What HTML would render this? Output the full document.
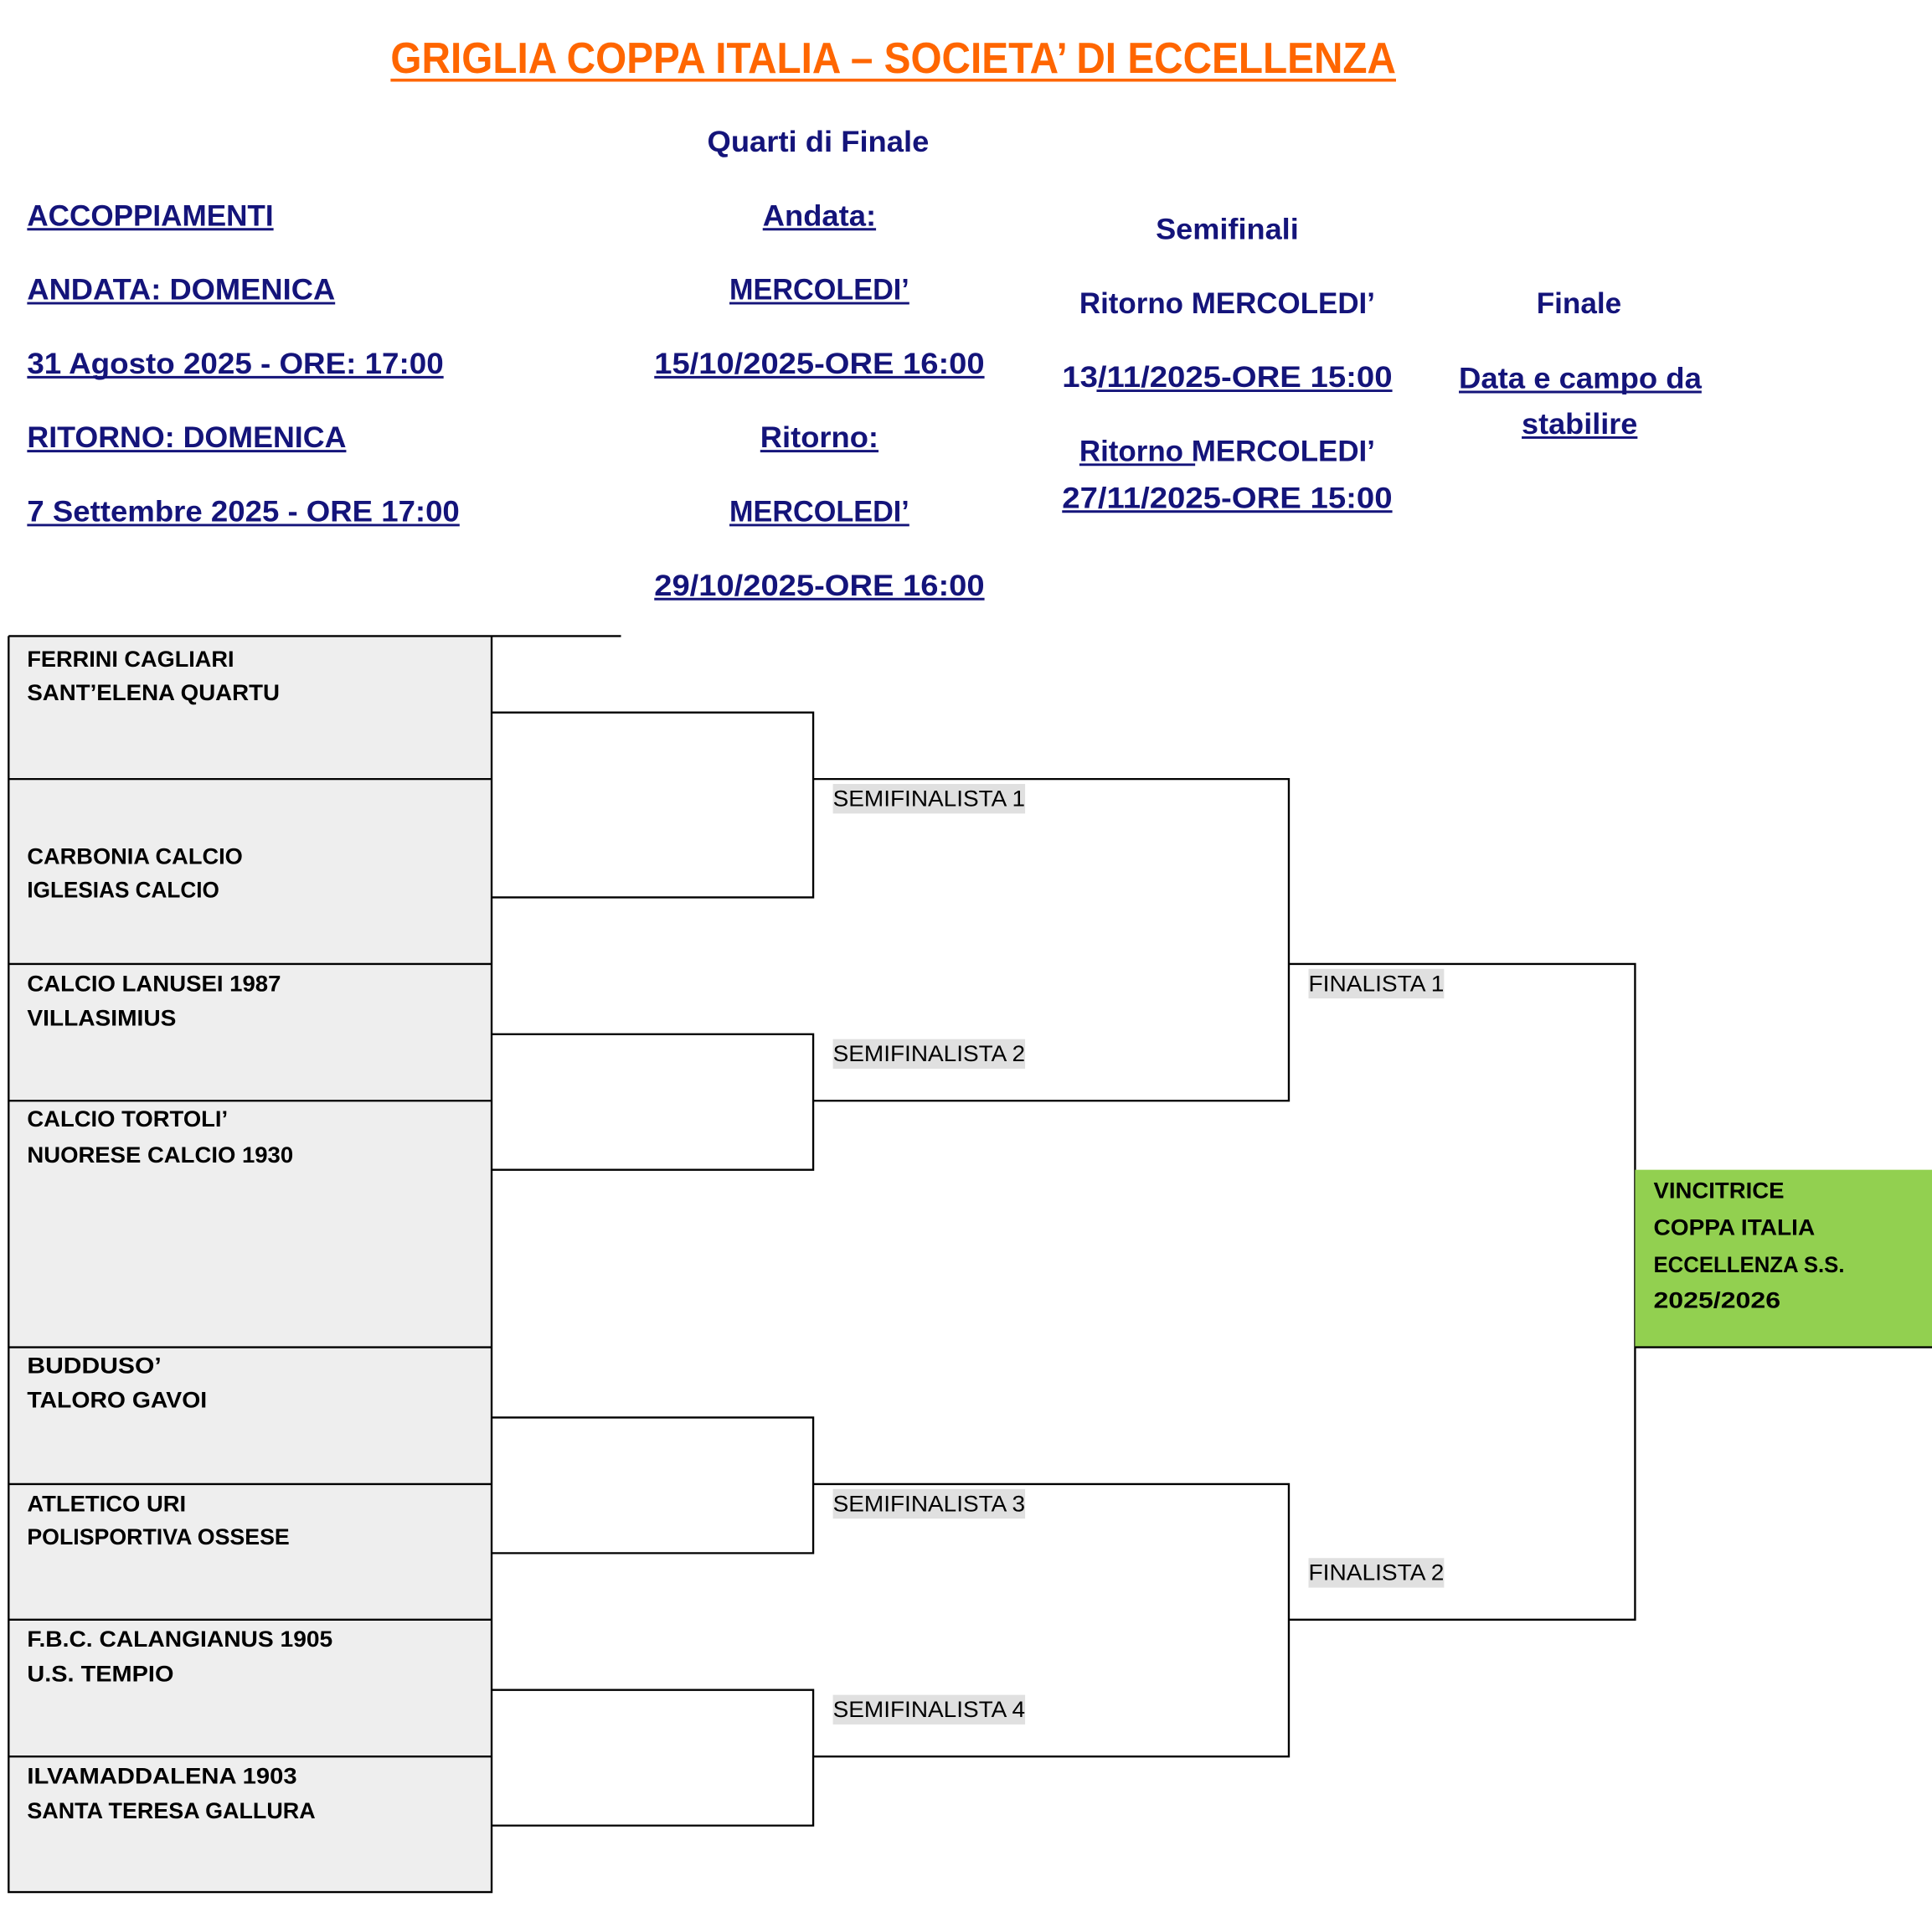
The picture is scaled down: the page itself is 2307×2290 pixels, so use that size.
<!DOCTYPE html>
<html><head><meta charset="utf-8"><style>
html,body{margin:0;padding:0;background:#fff;}
svg{display:block;}
text{font-family:"Liberation Sans",sans-serif;}
.h{fill:#14147a;font-weight:bold;font-size:24px;}
.t{fill:#000;font-weight:bold;font-size:18.5px;}
.s{fill:#000;font-size:18px;}
.u{stroke:#14147a;stroke-width:2;}
.l{stroke:#000;stroke-width:1.6;fill:none;}
</style></head><body>
<svg width="2307" height="2290" viewBox="0 0 1568 1556" preserveAspectRatio="none" xmlns="http://www.w3.org/2000/svg">
<rect width="1568" height="1556" fill="#fff"/>
<text x="317" y="59" textLength="816" lengthAdjust="spacingAndGlyphs" style="fill:#ff6600;font-weight:bold;font-size:35px">GRIGLIA COPPA ITALIA – SOCIETA’ DI ECCELLENZA</text>
<line x1="317" y1="65" x2="1133" y2="65" stroke="#ff6600" stroke-width="2.5"/>
<text class="h" x="574" y="123" textLength="180" lengthAdjust="spacingAndGlyphs">Quarti di Finale</text>

<text class="h" x="22" y="183" textLength="200" lengthAdjust="spacingAndGlyphs">ACCOPPIAMENTI</text><line class="u" x1="22" y1="186" x2="222" y2="186"/>
<text class="h" x="22" y="243" textLength="250" lengthAdjust="spacingAndGlyphs">ANDATA: DOMENICA</text><line class="u" x1="22" y1="246" x2="272" y2="246"/>
<text class="h" x="22" y="303" textLength="338" lengthAdjust="spacingAndGlyphs">31 Agosto  2025 - ORE: 17:00</text><line class="u" x1="22" y1="306" x2="360" y2="306"/>
<text class="h" x="22" y="363" textLength="259" lengthAdjust="spacingAndGlyphs">RITORNO: DOMENICA</text><line class="u" x1="22" y1="366" x2="281" y2="366"/>
<text class="h" x="22" y="423" textLength="351" lengthAdjust="spacingAndGlyphs">7 Settembre 2025 - ORE 17:00</text><line class="u" x1="22" y1="426" x2="373" y2="426"/>

<text class="h" x="619" y="183" textLength="92" lengthAdjust="spacingAndGlyphs">Andata:</text><line class="u" x1="619" y1="186" x2="711" y2="186"/>
<text class="h" x="592" y="243" textLength="146" lengthAdjust="spacingAndGlyphs">MERCOLEDI’</text><line class="u" x1="592" y1="246" x2="738" y2="246"/>
<text class="h" x="531" y="303" textLength="268" lengthAdjust="spacingAndGlyphs">15/10/2025-ORE 16:00</text><line class="u" x1="531" y1="306" x2="799" y2="306"/>
<text class="h" x="617" y="363" textLength="96" lengthAdjust="spacingAndGlyphs">Ritorno:</text><line class="u" x1="617" y1="366" x2="713" y2="366"/>
<text class="h" x="592" y="423" textLength="146" lengthAdjust="spacingAndGlyphs">MERCOLEDI’</text><line class="u" x1="592" y1="426" x2="738" y2="426"/>
<text class="h" x="531" y="483" textLength="268" lengthAdjust="spacingAndGlyphs">29/10/2025-ORE 16:00</text><line class="u" x1="531" y1="486" x2="799" y2="486"/>

<text class="h" x="938" y="194" textLength="116" lengthAdjust="spacingAndGlyphs">Semifinali</text>
<text class="h" x="876" y="254" textLength="240" lengthAdjust="spacingAndGlyphs">Ritorno MERCOLEDI’</text>
<text class="h" x="862" y="314" textLength="268" lengthAdjust="spacingAndGlyphs">13/11/2025-ORE 15:00</text><line class="u" x1="890" y1="317" x2="1130" y2="317"/>
<text class="h" x="876" y="374" textLength="240" lengthAdjust="spacingAndGlyphs">Ritorno MERCOLEDI’</text><line class="u" x1="876" y1="377" x2="970" y2="377"/>
<text class="h" x="862" y="412" textLength="268" lengthAdjust="spacingAndGlyphs">27/11/2025-ORE 15:00</text><line class="u" x1="862" y1="415" x2="1130" y2="415"/>

<text class="h" x="1247" y="254" textLength="69" lengthAdjust="spacingAndGlyphs">Finale</text>
<text class="h" x="1184" y="315" textLength="197" lengthAdjust="spacingAndGlyphs">Data e campo da</text><line class="u" x1="1184" y1="318" x2="1381" y2="318"/>
<text class="h" x="1235" y="352" textLength="94" lengthAdjust="spacingAndGlyphs">stabilire</text><line class="u" x1="1235" y1="355" x2="1329" y2="355"/>

<rect x="7" y="516" width="392" height="1019" fill="#eeeeee"/>
<line class="l" x1="7" y1="516" x2="504" y2="516"/>
<path class="l" d="M7 516V1535H399V516"/>
<path class="l" d="M7 632H399M7 782H399M7 893H399M7 1093H399M7 1204H399M7 1314H399M7 1425H399"/>

<text class="t" x="22" y="541" textLength="168" lengthAdjust="spacingAndGlyphs">FERRINI CAGLIARI</text>
<text class="t" x="22" y="568" textLength="205" lengthAdjust="spacingAndGlyphs">SANT’ELENA QUARTU</text>
<text class="t" x="22" y="701" textLength="175" lengthAdjust="spacingAndGlyphs">CARBONIA CALCIO</text>
<text class="t" x="22" y="728" textLength="156" lengthAdjust="spacingAndGlyphs">IGLESIAS CALCIO</text>
<text class="t" x="22" y="804" textLength="206" lengthAdjust="spacingAndGlyphs">CALCIO LANUSEI 1987</text>
<text class="t" x="22" y="832" textLength="121" lengthAdjust="spacingAndGlyphs">VILLASIMIUS</text>
<text class="t" x="22" y="914" textLength="163" lengthAdjust="spacingAndGlyphs">CALCIO TORTOLI’</text>
<text class="t" x="22" y="943" textLength="216" lengthAdjust="spacingAndGlyphs">NUORESE CALCIO 1930</text>
<text class="t" x="22" y="1114" textLength="109" lengthAdjust="spacingAndGlyphs">BUDDUSO’</text>
<text class="t" x="22" y="1142" textLength="146" lengthAdjust="spacingAndGlyphs">TALORO GAVOI</text>
<text class="t" x="22" y="1226" textLength="129" lengthAdjust="spacingAndGlyphs">ATLETICO URI</text>
<text class="t" x="22" y="1253" textLength="213" lengthAdjust="spacingAndGlyphs">POLISPORTIVA OSSESE</text>
<text class="t" x="22" y="1336" textLength="248" lengthAdjust="spacingAndGlyphs">F.B.C. CALANGIANUS 1905</text>
<text class="t" x="22" y="1364" textLength="119" lengthAdjust="spacingAndGlyphs">U.S. TEMPIO</text>
<text class="t" x="22" y="1447" textLength="219" lengthAdjust="spacingAndGlyphs">ILVAMADDALENA 1903</text>
<text class="t" x="22" y="1475" textLength="234" lengthAdjust="spacingAndGlyphs">SANTA TERESA GALLURA</text>

<path class="l" d="M399 578H660V728H399"/>
<path class="l" d="M399 839H660V949H399"/>
<path class="l" d="M399 1150H660V1260H399"/>
<path class="l" d="M399 1371H660V1481H399"/>
<path class="l" d="M660 632H1046V893H660"/>
<path class="l" d="M660 1204H1046V1425H660"/>
<path class="l" d="M1046 782H1327V1314H1046"/>

<rect x="676" y="636" width="156" height="24" fill="#e0e0e0"/>
<text class="s" x="676" y="654" textLength="156" lengthAdjust="spacingAndGlyphs">SEMIFINALISTA 1</text>
<rect x="676" y="843" width="156" height="24" fill="#e0e0e0"/>
<text class="s" x="676" y="861" textLength="156" lengthAdjust="spacingAndGlyphs">SEMIFINALISTA 2</text>
<rect x="676" y="1208" width="156" height="24" fill="#e0e0e0"/>
<text class="s" x="676" y="1226" textLength="156" lengthAdjust="spacingAndGlyphs">SEMIFINALISTA 3</text>
<rect x="676" y="1375" width="156" height="24" fill="#e0e0e0"/>
<text class="s" x="676" y="1393" textLength="156" lengthAdjust="spacingAndGlyphs">SEMIFINALISTA 4</text>
<rect x="1062" y="786" width="110" height="24" fill="#e0e0e0"/>
<text class="s" x="1062" y="804" textLength="110" lengthAdjust="spacingAndGlyphs">FINALISTA 1</text>
<rect x="1062" y="1264" width="110" height="24" fill="#e0e0e0"/>
<text class="s" x="1062" y="1282" textLength="110" lengthAdjust="spacingAndGlyphs">FINALISTA 2</text>

<rect x="1327" y="949" width="241" height="144" fill="#92d050"/>
<line class="l" x1="1327" y1="1093" x2="1568" y2="1093"/>
<text class="t" x="1342" y="972" textLength="106" lengthAdjust="spacingAndGlyphs">VINCITRICE</text>
<text class="t" x="1342" y="1002" textLength="131" lengthAdjust="spacingAndGlyphs">COPPA ITALIA</text>
<text class="t" x="1342" y="1032" textLength="155" lengthAdjust="spacingAndGlyphs">ECCELLENZA S.S.</text>
<text class="t" x="1342" y="1061" textLength="103" lengthAdjust="spacingAndGlyphs">2025/2026</text>
</svg>
</body></html>
